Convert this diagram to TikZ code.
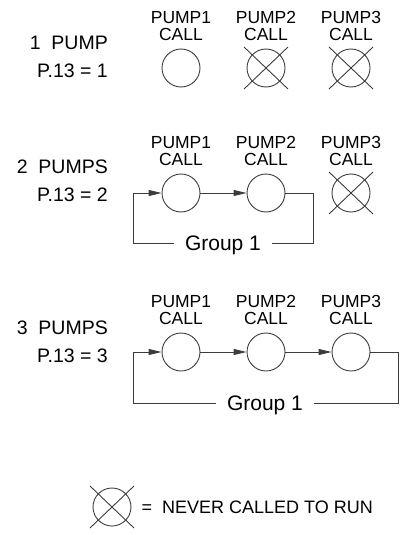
\documentclass[tikz,border=0pt]{standalone}
\usepackage{fontspec}
\setmainfont{Liberation Sans}
\usepackage{tikz}
\usetikzlibrary{arrows.meta, positioning, calc}
\definecolor{pumpgrey}{RGB}{60, 60, 60}

\begin{document}
\begin{tikzpicture}[x=1pt, y=-1pt, node distance=8pt,
        pump/.style={circle, draw=pumpgrey, line width=0.9pt, minimum size=38pt, inner sep=0pt},
        tag/.style={align=center, inner sep=0pt, font=\fontsize{17.5}{17}\selectfont},
        side/.style={anchor=east, inner sep=0pt, font=\fontsize{19.5}{20}\selectfont},
        group/.style={inner xsep=11pt, inner ysep=0pt, text depth=0pt, font=\fontsize{21}{22}\selectfont},
        line/.style={draw=pumpgrey, -{Triangle[length=13pt, width=6pt]}, line width=0.9pt},
        wire/.style={draw=pumpgrey, line width=0.9pt}]
    \useasboundingbox (0,0) rectangle (401,535);

    % Nodes
    \node [pump] (a1) at (181,68) {};
    \node [pump] (a2) at (266,68) {};
    \node [pump] (a3) at (351,68) {};
    \node [pump] (b1) at (181,193) {};
    \node [pump] (b2) at (266,193) {};
    \node [pump] (b3) at (351,193) {};
    \node [pump] (c1) at (181,352) {};
    \node [pump] (c2) at (266,352) {};
    \node [pump] (c3) at (351,352) {};
    \node [pump] (leg) at (112,507) {};

    \foreach \r in {a,b,c}
        \foreach \i in {1,2,3}
            \node [tag, above=of \r\i] (\r\i tag) {PUMP\i\\CALL};

    % Labels
    \node [side] (a0name) at (108,43) {1\ \ PUMP};
    \node [side] (a0par) at (108,71) {P.13 = 1};
    \node [side] (b0name) at (108,167) {2\ \ PUMPS};
    \node [side] (b0par) at (108,195) {P.13 = 2};
    \node [side] (c0name) at (108,328) {3\ \ PUMPS};
    \node [side] (c0par) at (108,356) {P.13 = 3};
    \node [group] (g2) at (223,243) {Group 1};
    \node [group] (g3) at (265,403) {Group 1};
    \node [right=10pt of leg, inner sep=0pt, font=\fontsize{18}{20}\selectfont] (legtxt) {=\ \ NEVER CALLED TO RUN};

    % Arrows
    \coordinate (b0) at (133,193);
    \coordinate (b4) at (313,243);
    \path [line] (b0) -- (b1);
    \path [line] (b1) -- (b2);
    \path [wire] (b2) -| (b4) -- (g2.east);
    \path [wire] (g2.west) -| (b0);

    \coordinate (c0) at (133,352);
    \coordinate (c4) at (398,403);
    \path [line] (c0) -- (c1);
    \path [line] (c1) -- (c2);
    \path [line] (c2) -- (c3);
    \path [wire] (c3) -| (c4) -- (g3.east);
    \path [wire] (g3.west) -| (c0);

    % Never called
    \foreach \n in {a2,a3,b3,leg}
        \draw [wire] (\n.center) +(-22,-21) -- +(22,21) +(-22,21) -- +(22,-21);
\end{tikzpicture}
\end{document}
